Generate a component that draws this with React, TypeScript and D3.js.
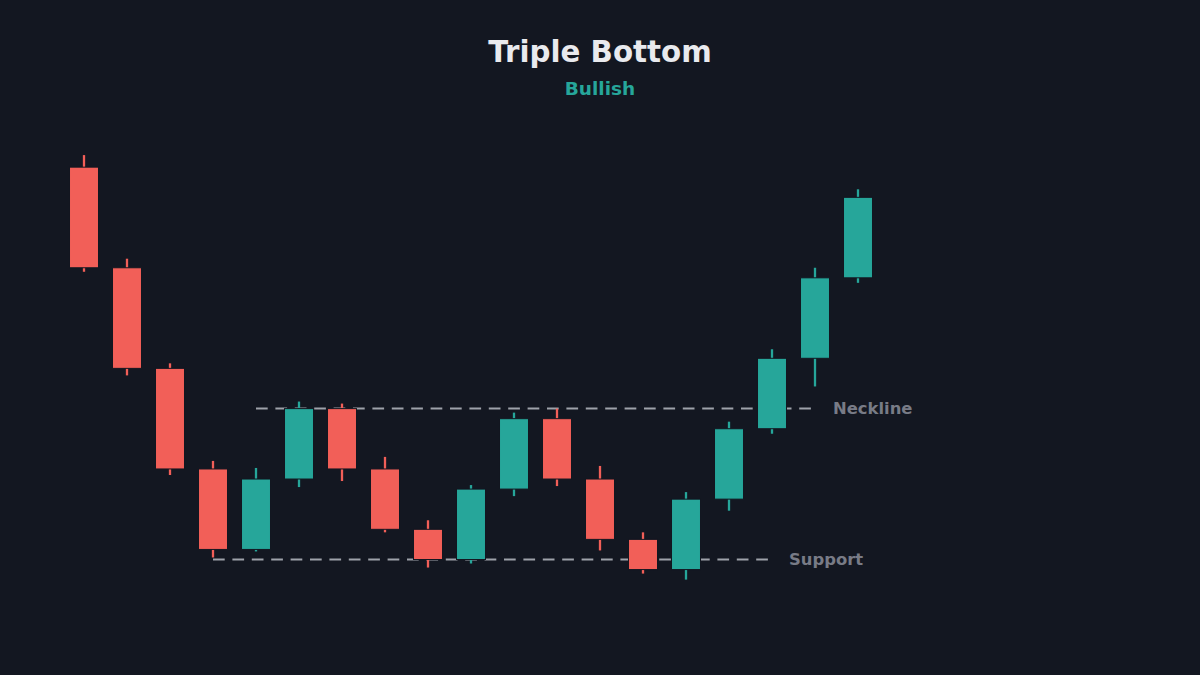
import React from "react";
import * as d3 from "d3";

const W = 1200;
const H = 675;

const opens = [139, 129, 119, 109, 101, 108, 115, 109, 103, 100, 107, 114, 108, 102, 99, 106, 113, 120, 128];
const highs = [140.2, 129.9, 119.5, 109.8, 109.1, 115.7, 115.5, 110.2, 103.9, 107.4, 114.6, 115.0, 109.3, 102.7, 106.7, 113.7, 120.9, 129.0, 136.8];
const lows = [128.6, 118.3, 108.4, 100.2, 100.8, 107.2, 107.8, 102.7, 99.2, 99.6, 106.3, 107.3, 100.9, 98.6, 98.0, 104.85, 112.5, 117.2, 127.5];
const closes = [129, 119, 109, 101, 108, 115, 109, 103, 100, 107, 114, 108, 102, 99, 106, 113, 120, 128, 136];

const necklineLevel = 115;
const supportLevel = 100;
const necklineSpan = [4, 17];
const supportSpan = [3, 16];

const BG = "#131721";
const UP = "#26A69A";
const DOWN = "#F25F58";
const LINE = "#9EA2AA";
const LABEL = "#787B86";
const FONT = "'DejaVu Sans', sans-serif";

export default function App() {
  const idx = opens.map((_, i) => i);
  const x = d3
    .scaleBand<number>()
    .domain(idx)
    .range([62.5, 879.5])
    .paddingInner(0.326)
    .paddingOuter(0.163);
  const y = d3.scaleLinear().domain([90, 145]).range([660.1, 106.8]);
  const cx = (i: number) => (x(i) as number) + x.bandwidth() / 2;

  return (
    <svg
      width={W}
      height={H}
      style={{ position: "absolute", left: 0, top: 0, display: "block" }}
    >
      <rect x={0} y={0} width={W} height={H} fill={BG} />
      <text
        x={600}
        y={62}
        textAnchor="middle"
        fill="#E9EAEE"
        fontFamily={FONT}
        fontWeight="bold"
        fontSize={29.3}
      >
        Triple Bottom
      </text>
      <text
        x={600}
        y={95}
        textAnchor="middle"
        fill={UP}
        fontFamily={FONT}
        fontWeight="bold"
        fontSize={18.5}
      >
        Bullish
      </text>

      {/* reference lines */}
      <line
        x1={cx(necklineSpan[0])}
        x2={cx(necklineSpan[1])}
        y1={y(necklineLevel)}
        y2={y(necklineLevel)}
        stroke={LINE}
        strokeWidth={2}
        strokeDasharray="11.7 7.7"
      />
      <text
        x={cx(necklineSpan[1]) + 18}
        y={y(necklineLevel)}
        dy="0.35em"
        fill={LABEL}
        fontFamily={FONT}
        fontWeight="bold"
        fontSize={16.4}
      >
        Neckline
      </text>
      <line
        x1={cx(supportSpan[0])}
        x2={cx(supportSpan[1])}
        y1={y(supportLevel)}
        y2={y(supportLevel)}
        stroke={LINE}
        strokeWidth={2}
        strokeDasharray="11.7 7.7"
      />
      <text
        x={cx(supportSpan[1]) + 17}
        y={y(supportLevel)}
        dy="0.35em"
        fill={LABEL}
        fontFamily={FONT}
        fontWeight="bold"
        fontSize={16.4}
      >
        Support
      </text>

      {idx.map((i) => {
        const o = opens[i];
        const c = closes[i];
        const up = c >= o;
        const color = up ? UP : DOWN;
        const top = y(Math.max(o, c));
        const bot = y(Math.min(o, c));
        return (
          <g key={i}>
            <line
              x1={cx(i)}
              x2={cx(i)}
              y1={y(highs[i])}
              y2={y(lows[i])}
              stroke={color}
              strokeWidth={2.3}
            />
            <rect
              x={x(i) as number}
              y={top}
              width={x.bandwidth()}
              height={Math.max(1, bot - top)}
              fill={color}
              stroke={BG}
              strokeWidth={1}
            />
          </g>
        );
      })}
    </svg>
  );
}
